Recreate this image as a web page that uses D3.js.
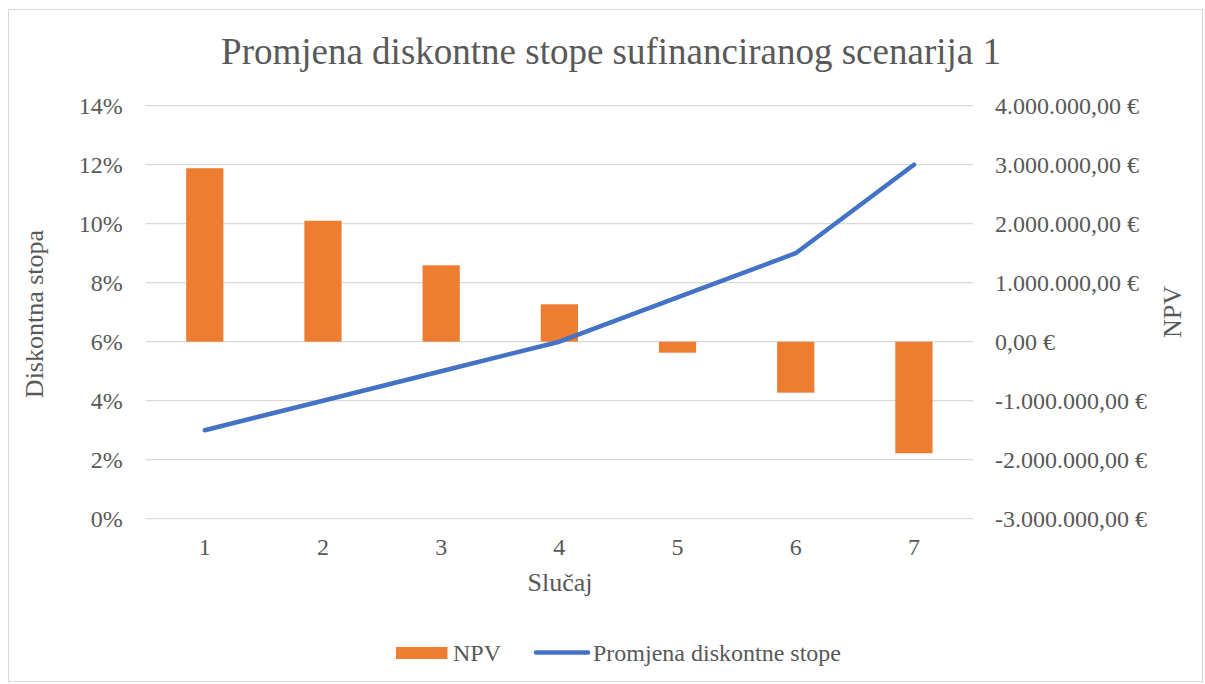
<!DOCTYPE html>
<html>
<head>
<meta charset="utf-8">
<script src="https://cdn.jsdelivr.net/npm/d3@7"></script>
<style>
  body { margin: 0; background: #fff; }
  svg { display: block; font-family: "Liberation Serif", "Times New Roman", serif; }
</style>
</head>
<body>
<svg id="chart" width="1205" height="684"></svg>
<script>
const categories = ["1", "2", "3", "4", "5", "6", "7"];
const npvValues = [2940000, 2050000, 1295000, 634000, -186000, -864000, -1890000];
const rateValues = [0.03, 0.04, 0.05, 0.06, 0.075, 0.09, 0.12];
const leftTicks = [0, 0.02, 0.04, 0.06, 0.08, 0.10, 0.12, 0.14];
const rightTicks = [-3000000, -2000000, -1000000, 0, 1000000, 2000000, 3000000, 4000000];
const title = "Promjena diskontne stope sufinanciranog scenarija 1";

(function () {
const svg = d3.select("#chart");
const textColor = "#595959";
const gridColor = "#d9d9d9";

svg.append("rect").attr("x", 8.5).attr("y", 9.5).attr("width", 1194).attr("height", 672)
  .attr("fill", "#fff").attr("stroke", "#d9d9d9").attr("stroke-width", 1);

const pLeft = 145.7, pRight = 973, pTop = 105.7, pBottom = 518.7;

const x = d3.scaleBand().domain(categories).range([pLeft, pRight]).paddingInner(0.685).paddingOuter(0.3425);
const yL = d3.scaleLinear().domain([0, 0.14]).range([pBottom, pTop]);
const yR = d3.scaleLinear().domain([-3000000, 4000000]).range([pBottom, pTop]);

svg.append("g").selectAll("line").data(leftTicks).join("line")
  .attr("x1", pLeft).attr("x2", pRight)
  .attr("y1", d => yL(d)).attr("y2", d => yL(d))
  .attr("stroke", gridColor).attr("stroke-width", 1.3);

svg.append("text").attr("x", 611).attr("y", 64).attr("text-anchor", "middle")
  .attr("font-size", 37).attr("fill", textColor).text(title);

const fmtPct = d3.format(".0%");
const axL = d3.axisLeft(yL).tickValues(leftTicks).tickFormat(fmtPct).tickSize(0).tickPadding(23);
const gL = svg.append("g").attr("transform", `translate(${pLeft},0)`).call(axL);
gL.select(".domain").remove();
gL.selectAll("text").attr("font-size", 24).attr("fill", textColor).attr("font-family", "Liberation Serif");

const fmtEur = d => {
  const s = d3.format(",.2f")(Math.abs(d)).replace(/,/g, "#").replace(".", ",").replace(/#/g, ".");
  return (d < 0 ? "-" : "") + s + " €";
};
const axR = d3.axisRight(yR).tickValues(rightTicks).tickFormat(fmtEur).tickSize(0).tickPadding(22);
const gR = svg.append("g").attr("transform", `translate(${pRight},0)`).call(axR);
gR.select(".domain").remove();
gR.selectAll("text").attr("font-size", 24).attr("fill", textColor).attr("font-family", "Liberation Serif");

const axB = d3.axisBottom(x).tickSize(0).tickPadding(19);
const gB = svg.append("g").attr("transform", `translate(0,${pBottom})`).call(axB);
gB.select(".domain").remove();
gB.selectAll("text").attr("font-size", 24).attr("fill", textColor).attr("font-family", "Liberation Serif");

svg.append("g").selectAll("rect").data(npvValues).join("rect")
  .attr("x", (d, i) => x(categories[i]))
  .attr("width", x.bandwidth())
  .attr("y", d => Math.min(yR(d), yR(0)))
  .attr("height", d => Math.abs(yR(d) - yR(0)))
  .attr("fill", "#ED7D31");

const line = d3.line()
  .x((d, i) => x(categories[i]) + x.bandwidth() / 2)
  .y(d => yL(d))
  .curve(d3.curveLinear);
svg.append("path").datum(rateValues).attr("d", line)
  .attr("fill", "none").attr("stroke", "#4472C4").attr("stroke-width", 4.5)
  .attr("stroke-linecap", "round").attr("stroke-linejoin", "round");

svg.append("text").attr("transform", "translate(43,314) rotate(-90)").attr("text-anchor", "middle")
  .attr("font-size", 26).attr("fill", textColor).text("Diskontna stopa");
svg.append("text").attr("transform", "translate(1181,312) rotate(-90)").attr("text-anchor", "middle")
  .attr("font-size", 26).attr("fill", textColor).text("NPV");
svg.append("text").attr("x", 560).attr("y", 591).attr("text-anchor", "middle")
  .attr("font-size", 26).attr("fill", textColor).text("Slučaj");

const lg = svg.append("g");
lg.append("rect").attr("x", 396).attr("y", 647).attr("width", 51.5).attr("height", 12).attr("fill", "#ED7D31");
lg.append("text").attr("x", 453).attr("y", 661).attr("font-size", 24).attr("fill", textColor).text("NPV");
lg.append("line").attr("x1", 536).attr("x2", 588).attr("y1", 652.5).attr("y2", 652.5)
  .attr("stroke", "#4472C4").attr("stroke-width", 4.5).attr("stroke-linecap", "round");
lg.append("text").attr("x", 593).attr("y", 661).attr("font-size", 24).attr("fill", textColor).text("Promjena diskontne stope");
})();
</script>
</body>
</html>
